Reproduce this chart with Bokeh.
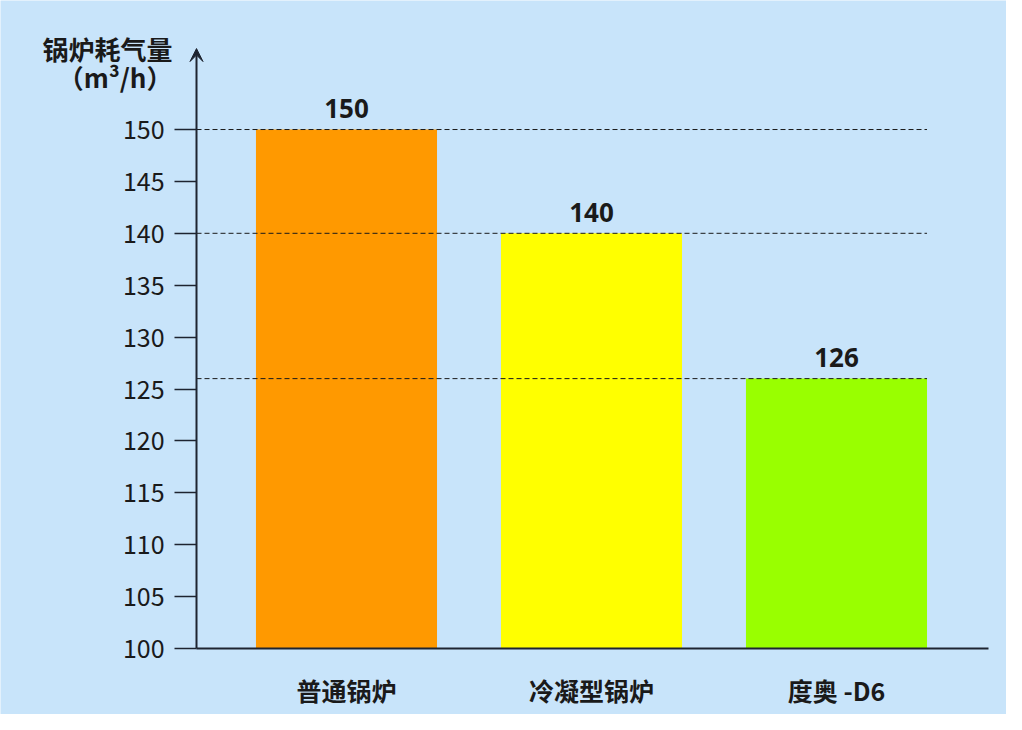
from bokeh.plotting import figure
from bokeh.models import Range1d, FixedTicker, Arrow, VeeHead, Label, ColumnDataSource, LinearAxis
from bokeh.core.properties import value
from bokeh.embed import file_html
from bokeh.resources import INLINE

categories = ["普通锅炉", "冷凝型锅炉", "度奥 -D6"]
consumption = [150, 140, 126]
value_labels = ["150", "140", "126"]
bar_colors = ["#FF9900", "#FFFF00", "#99FF00"]
y_ticks = [100, 105, 110, 115, 120, 125, 130, 135, 140, 145, 150]

BG = "#C8E4FA"
AX = "#1E2430"
xs = [1, 2, 3]
bw = 0.739
X0 = 0.3878      # x position of the vertical axis
X1 = 3.6204      # right end of the horizontal axis
YTOP = 157.8     # tip of the vertical axis arrow

p = figure(width=1006, height=714, output_backend="svg", toolbar_location=None,
           x_range=Range1d(-0.4122, 3.6939), y_range=Range1d(93.64, 162.43),
           min_border_left=0, min_border_right=0, min_border_top=0, min_border_bottom=0,
           x_axis_location=None, y_axis_location=None)
p.background_fill_color = BG
p.border_fill_color = BG
p.outline_line_color = None
p.grid.visible = False

src = ColumnDataSource(dict(x=xs, top=consumption, color=bar_colors, lab=value_labels))
p.vbar(x="x", top="top", bottom=100, width=bw, color="color", line_color=None, source=src)

# dashed reference lines
p.segment(x0=[X0] * 3, y0=consumption, x1=[3 + bw / 2] * 3, y1=consumption,
          line_color="#1a1a1a", line_width=1, line_dash="5 3")

p.text(x="x", y="top", text="lab", source=src, text_align="center", text_baseline="middle",
       y_offset=-21, text_font=value("Noto Sans"), text_font_style="bold",
       text_font_size="26px", text_color="#1a1a1a")

# y axis
yax = LinearAxis(fixed_location=X0, bounds=(100, 150))
yax.ticker = FixedTicker(ticks=y_ticks)
yax.axis_line_color = None
yax.major_tick_out = 22
yax.major_tick_in = 0
yax.minor_tick_line_color = None
yax.major_tick_line_color = AX
yax.major_tick_line_width = 1.5
yax.major_label_standoff = 10
yax.major_label_text_font = "Noto Sans CJK SC"
yax.major_label_text_font_size = "25px"
yax.major_label_text_color = "#1a1a1a"
p.add_layout(yax, "left")

# x axis
xax = LinearAxis(fixed_location=100, bounds=(X0, X1))
xax.ticker = FixedTicker(ticks=xs)
xax.major_label_overrides = {x: c for x, c in zip(xs, categories)}
xax.major_tick_line_color = None
xax.minor_tick_line_color = None
xax.axis_line_color = AX
xax.axis_line_width = 2
xax.major_label_standoff = 18
xax.major_label_text_font = "Noto Sans CJK SC"
xax.major_label_text_font_style = "bold"
xax.major_label_text_font_size = "25px"
xax.major_label_text_color = "#1a1a1a"
p.add_layout(xax, "below")

p.add_layout(Arrow(x_start=X0, y_start=100, x_end=X0, y_end=YTOP,
                   line_color=AX, line_width=2,
                   end=VeeHead(size=13, line_color=AX, fill_color=AX, line_width=1)))

p.add_layout(Label(x=0.2898, y=157.8, text="锅炉耗气量", text_align="right", text_baseline="middle",
                   text_font="Noto Sans CJK SC", text_font_style="bold", text_font_size="26px",
                   text_color="#1a1a1a"))
p.add_layout(Label(x=0.2898, y=155.1, text="（m³/h）", text_align="right", text_baseline="middle",
                   text_font="Noto Sans CJK SC", text_font_style="bold", text_font_size="26px",
                   text_color="#1a1a1a"))

open("out.html", "w").write(file_html(p, INLINE))
